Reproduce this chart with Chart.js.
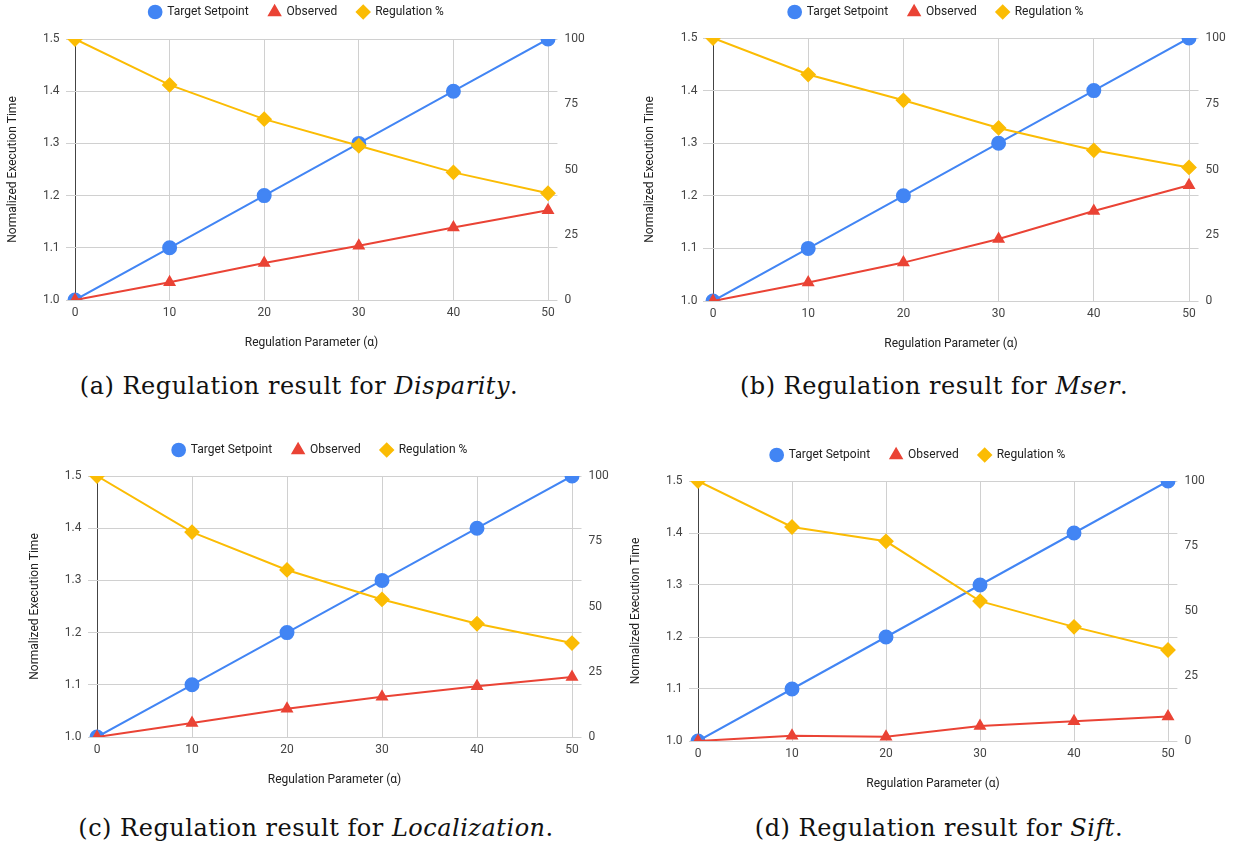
<!DOCTYPE html>
<html>
<head>
<meta charset="utf-8">
<title>Regulation results</title>
<script src="https://cdn.jsdelivr.net/npm/chart.js@4.4.1/dist/chart.umd.min.js"></script>
<style>
  body { margin: 0; background: #fff; width: 1236px; height: 846px; position: relative; overflow: hidden; }
  canvas { position: absolute; }
  .caption {
    position: absolute; white-space: nowrap; transform: translateX(-50%);
    font-family: "DejaVu Serif", "Liberation Serif", serif; font-size: 24px; line-height: 1;
    letter-spacing: 0.5px; color: #111;
  }
</style>
</head>
<body>
<canvas id="chartA"></canvas>
<canvas id="chartB"></canvas>
<canvas id="chartC"></canvas>
<canvas id="chartD"></canvas>

<div class="caption" style="left:299px; top:374px">(a) Regulation result for <i>Disparity</i>.</div>
<div class="caption" style="left:934px; top:374px">(b) Regulation result for <i>Mser</i>.</div>
<div class="caption" style="left:316px; top:816px">(c) Regulation result for <i>Localization</i>.</div>
<div class="caption" style="left:939px; top:816px">(d) Regulation result for <i>Sift</i>.</div>

<script>
// data
const alpha = [0, 10, 20, 30, 40, 50];
const targetSetpoint = [1.0, 1.1, 1.2, 1.3, 1.4, 1.5];

const observedDisparity = [1.0, 1.034, 1.071, 1.104, 1.139, 1.172];
const regulationDisparity = [100, 82.4, 69.3, 59.1, 48.9, 40.9];

const observedMser = [1.0, 1.035, 1.073, 1.118, 1.171, 1.220];
const regulationMser = [100, 86.1, 76.3, 65.8, 57.3, 50.8];

const observedLocalization = [1.0, 1.027, 1.054, 1.077, 1.097, 1.115];
const regulationLocalization = [100, 78.5, 64.0, 52.7, 43.4, 36.0];

const observedSift = [1.0, 1.010, 1.008, 1.029, 1.038, 1.047];
const regulationSift = [100, 82.3, 76.8, 53.8, 43.9, 35.0];

const seriesNames = ['Target Setpoint', 'Observed', 'Regulation %'];
const xTitle = 'Regulation Parameter (\u03b1)';
const yTitle = 'Normalized Execution Time';

const BLUE = '#4285F4';
const RED = '#EA4335';
const YELLOW = '#FBBC04';
const FONT = 'Roboto, "Liberation Sans", sans-serif';

const LEFT_AXIS_W = 66;
const RIGHT_AXIS_W = 36;
const X_AXIS_H = 54;

// where each plot sits on the page (pixel of x=0, x=50, y top/bottom, legend row)
const layouts = [
  { id: 'chartA', x0: 75, x50: 548, yTop: 39, yBottom: 300, legendY: 12 },
  { id: 'chartB', x0: 713, x50: 1189, yTop: 38, yBottom: 301, legendY: 12 },
  { id: 'chartC', x0: 97, x50: 572, yTop: 476, yBottom: 737, legendY: 450 },
  { id: 'chartD', x0: 698, x50: 1168, yTop: 481, yBottom: 741, legendY: 455 }
];
const observedSets = [observedDisparity, observedMser, observedLocalization, observedSift];
const regulationSets = [regulationDisparity, regulationMser, regulationLocalization, regulationSift];

const points = values => alpha.map((a, i) => ({ x: a, y: values[i] }));

function buildChart(layout, observed, regulation) {
  const unit = (layout.x50 - layout.x0) / 50;
  const areaLeft = layout.x0 - unit;
  const areaRight = layout.x50 + unit;
  const canvasLeft = Math.round(areaLeft - LEFT_AXIS_W);
  const canvasTop = layout.legendY - 26;
  const canvasWidth = Math.round(areaRight + RIGHT_AXIS_W - canvasLeft);
  const canvasHeight = layout.yBottom + X_AXIS_H - canvasTop;
  const leftW = areaLeft - canvasLeft;
  const rightW = canvasWidth - (areaRight - canvasLeft);
  const gap = layout.yTop - (layout.legendY + 16);

  const canvas = document.getElementById(layout.id);
  canvas.width = canvasWidth;
  canvas.height = canvasHeight;
  canvas.style.left = canvasLeft + 'px';
  canvas.style.top = canvasTop + 'px';

  return new Chart(canvas, {
    type: 'line',
    data: {
      datasets: [{
        label: seriesNames[0],
        data: points(targetSetpoint),
        yAxisID: 'y',
        borderColor: BLUE,
        backgroundColor: BLUE,
        pointStyle: 'circle',
        pointRadius: 6.5,
        borderWidth: 2,
        order: 2
      }, {
        label: seriesNames[1],
        data: points(observed),
        yAxisID: 'y',
        borderColor: RED,
        backgroundColor: RED,
        pointStyle: 'triangle',
        pointRadius: 5.5,
        borderWidth: 2,
        order: 1
      }, {
        label: seriesNames[2],
        data: points(regulation),
        yAxisID: 'y2',
        borderColor: YELLOW,
        backgroundColor: YELLOW,
        pointStyle: 'rectRot',
        pointRadius: 6.5,
        borderWidth: 2,
        order: 0
      }]
    },
    options: {
      responsive: false,
      animation: false,
      layout: { padding: 0 },
      plugins: {
        tooltip: { enabled: false },
        legend: {
          position: 'top',
          labels: {
            usePointStyle: true,
            boxHeight: 9,
            padding: 20,
            color: '#222',
            font: { family: FONT, size: 12 },
            sort: (a, b) => a.datasetIndex - b.datasetIndex
          }
        },
        // empty spacer between legend and plot
        subtitle: {
          display: true,
          text: '',
          weight: 500,
          font: { size: 1, lineHeight: 1 },
          padding: { top: gap - 1, bottom: 0 }
        }
      },
      scales: {
        x: {
          type: 'linear',
          min: -1,
          max: 51,
          afterFit: s => { s.height = X_AXIS_H; },
          border: { display: false },
          grid: {
            drawTicks: false,
            color: ctx => ctx.tick && ctx.tick.value === 0 ? '#444' : '#d0d0d0'
          },
          ticks: {
            stepSize: 10,
            includeBounds: false,
            padding: 6,
            color: '#444',
            font: { family: FONT, size: 12 }
          },
          title: {
            display: true,
            text: xTitle,
            color: '#222',
            font: { family: FONT, size: 12 },
            padding: { top: 0, bottom: 4 }
          }
        },
        y: {
          position: 'left',
          min: 1.0,
          max: 1.5,
          afterFit: s => { s.width = leftW; },
          border: { display: false },
          grid: { drawTicks: false, color: '#d0d0d0' },
          ticks: {
            stepSize: 0.1,
            padding: 6,
            color: '#444',
            font: { family: FONT, size: 12 },
            callback: v => v.toFixed(1)
          },
          title: {
            display: true,
            text: yTitle,
            color: '#222',
            font: { family: FONT, size: 12 },
            padding: { top: 6, bottom: 0 }
          }
        },
        y2: {
          position: 'right',
          min: 0,
          max: 100,
          afterFit: s => { s.width = rightW; },
          border: { display: false },
          grid: { display: false, drawTicks: false },
          ticks: {
            stepSize: 25,
            padding: 7,
            color: '#444',
            font: { family: FONT, size: 12 }
          }
        }
      }
    }
  });
}

layouts.forEach((layout, i) => buildChart(layout, observedSets[i], regulationSets[i]));
</script>
</body>
</html>
